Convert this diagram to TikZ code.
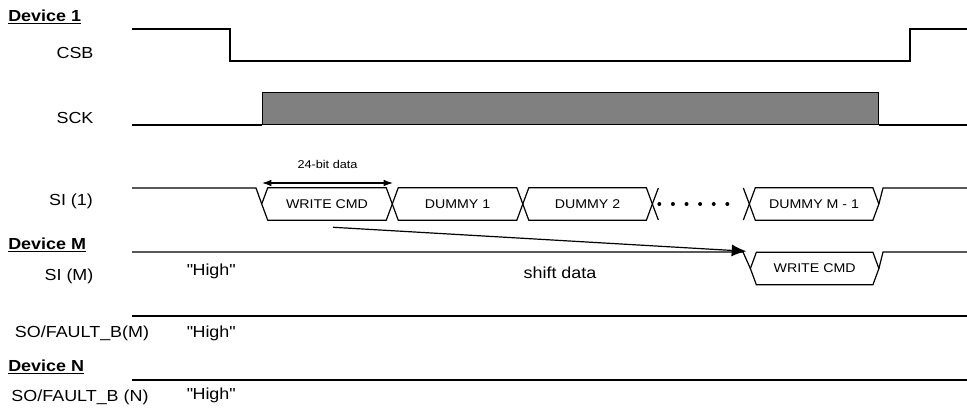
\documentclass[tikz,border=0pt]{standalone}
\usepackage{fontspec}
\setmainfont{Liberation Sans}[FakeStretch=1.12]
\usepackage{tikz}
\usetikzlibrary{arrows.meta, positioning}

\definecolor{burstgray}{RGB}{128,128,128}

% bus cell outline from the node's corners
\newcommand{\hexcell}[1]{%
    \draw[wave] (#1.west) -- ([xshift=4.5pt]#1.north west) -- ([xshift=-4.5pt]#1.north east)
        -- (#1.east) -- ([xshift=-4.5pt]#1.south east) -- ([xshift=4.5pt]#1.south west) -- cycle;
}

\begin{document}
\begin{tikzpicture}[
    x=0.75pt, y=-0.75pt,
    wave/.style={line width=0.9pt},
    siglabel/.style={
        anchor=base,
        inner sep=0pt,
        font=\fontsize{12}{14}\selectfont
    },
    devlabel/.style={
        anchor=base west,
        inner sep=0pt,
        font=\fontsize{12}{14}\selectfont\bfseries
    },
    cell/.style={
        rectangle,
        inner sep=0pt,
        minimum height=24pt,
        minimum width=97.5pt,
        font=\fontsize{9.5}{11}\selectfont
    },
    arrow/.style={-{Latex[length=11pt, width=9pt]}, line width=0.9pt},
    span/.style={{Latex[length=7pt, width=5pt]}-{Latex[length=7pt, width=5pt]}, line width=0.9pt}
]
\useasboundingbox (0,0) rectangle (967,411);

% labels on the left
\node[devlabel] (dev1) at (8,21) {\underline{Device 1}};
\node[siglabel] (csb) at (75,58) {CSB};
\node[siglabel] (sck) at (75,123) {SCK};
\node[siglabel] (si1) at (71,205) {SI (1)};
\node[devlabel] (devM) at (8,249) {\underline{Device M}};
\node[siglabel] (siM) at (69,280) {SI (M)};
\node[siglabel] (soM) at (82,337) {SO/FAULT\_B(M)};
\node[devlabel] (devN) at (8,371) {\underline{Device N}};
\node[siglabel] (soN) at (80,401) {SO/FAULT\_B (N)};

% CSB
\draw[wave] (132,29) -- (230,29) -- (230,61) -- (910,61) -- (910,29) -- (967,29);

% SCK
\node[draw, wave, fill=burstgray, anchor=south west, inner sep=0pt,
      minimum width=462pt, minimum height=24pt] (burst) at (262,125) {};
\draw[wave] (132,125) -- (burst.south west);
\draw[wave] (burst.south east) -- (967,125);

% SI (1)
\node[cell] (wr1) at (327,204) {WRITE CMD};
\node[cell, right=0pt of wr1] (dum1) {DUMMY 1};
\node[cell, right=0pt of dum1, minimum width=96.75pt] (dum2) {DUMMY 2};
\node[cell, right=72.75pt of dum2, minimum width=96.75pt] (dumM) {DUMMY M - 1};
\hexcell{wr1}
\hexcell{dum1}
\hexcell{dum2}
\hexcell{dumM}
\draw[wave] (132,188) -- (256,188) -- (wr1.west);
\draw[wave] (dum2.east) -- ++(6,16);
\draw[wave] (dum2.east) -- ++(6,-16);
\draw[wave] (dumM.west) -- ++(-6,16);
\draw[wave] (dumM.west) -- ++(-6,-16);
\draw[line width=3pt, line cap=round, dash pattern=on 0pt off 10.2pt]
    ([xshift=5.25pt]dum2.east) -- ([xshift=-15.75pt]dumM.west);
\draw[wave] (dumM.east) -- (883,188) -- (967,188);

\draw[span] (262,183) -- node[above=10pt, inner sep=0pt, font=\fontsize{8.5}{10}\selectfont] (bits) {24-bit data} (393,183);

% SI (M)
\node[cell, below=24pt of dumM, minimum width=96pt, xshift=0.4pt] (wrM) {WRITE CMD};
\hexcell{wrM}
\draw[wave] (132,252) -- (743,252) -- (wrM.west);
\draw[wave] (wrM.east) -- (883,252) -- (967,252);
\node[siglabel] (highSI) at (211,275) {\textquotedbl High\textquotedbl};
\node[siglabel] (shift) at (560,278) {shift data};

\draw[arrow] ([xshift=4.5pt, yshift=-5.25pt]wr1.south) -- ([xshift=-3pt, yshift=0.75pt]wrM.north west);

% SO/FAULT_B (M)
\draw[wave] (132,316) -- (967,316);
\node[siglabel] (highSOM) at (211,337) {\textquotedbl High\textquotedbl};

% SO/FAULT_B (N)
\draw[wave] (132,380) -- (967,380);
\node[siglabel] (highSON) at (211,399) {\textquotedbl High\textquotedbl};

\end{tikzpicture}
\end{document}
